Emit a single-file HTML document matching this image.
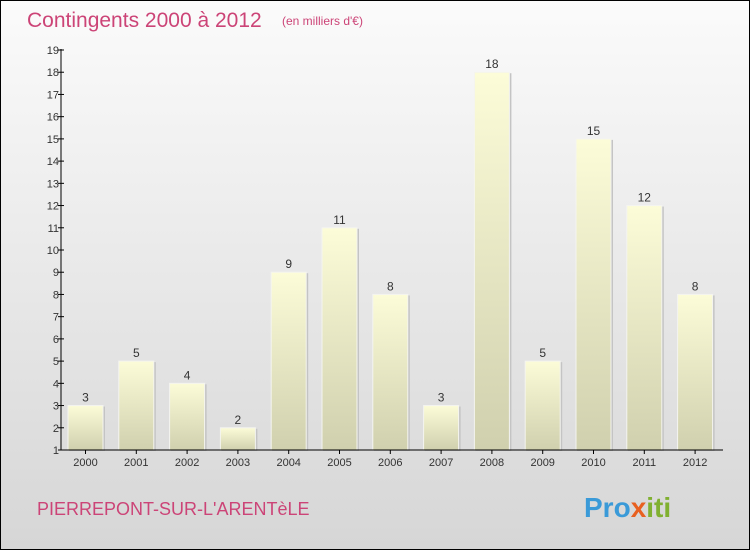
<!DOCTYPE html>
<html><head><meta charset="utf-8"><style>
body{margin:0}
.c{position:relative;width:748px;height:548px;border:1px solid #000;background:linear-gradient(#fbfbfb,#d6d6d6);font-family:"Liberation Sans",sans-serif;overflow:hidden}
</style></head><body><div class="c">
<svg width="748" height="548" style="position:absolute;left:0;top:0" font-family="Liberation Sans, sans-serif">
<defs><linearGradient id="g" x1="0" y1="0" x2="0" y2="1"><stop offset="0" stop-color="#fcfcd8"/><stop offset="1" stop-color="#d0d0ae"/></linearGradient></defs>
<text x="26" y="26" font-size="21" fill="#cc4477">Contingents 2000 à 2012</text>
<text x="281" y="24" font-size="12" fill="#cc4477">(en milliers d'€)</text>
<g id="bars"></g>
<line x1="60" y1="48" x2="60" y2="449" stroke="#000"/>
<line x1="60" y1="449" x2="722" y2="449" stroke="#000"/>
<g font-size="11" fill="#333" text-anchor="end" id="yt"></g>
<g font-size="11" fill="#333" text-anchor="middle" id="xt"></g>
<text x="36" y="514" font-size="18" fill="#cc4477">PIERREPONT-SUR-L'ARENTèLE</text>
<text x="583" y="516" font-size="28" font-weight="bold" fill="#3a9ad8">Pro<tspan fill="#e86020">x</tspan><tspan fill="#80b030">iti</tspan></text>
</svg>
<script>
var v=[3,5,4,2,9,11,8,3,18,5,15,12,8],s='',y='',x='';
function Y(n){return 449-(n-1)*400/18;}
v.forEach(function(n,i){var bx=67+50.8*i,t=Y(n);
s+='<rect x="'+(bx+1)+'" y="'+(t+1)+'" width="36" height="'+(449-t)+'" fill="#c4c4c4"/>';
s+='<rect x="'+bx+'" y="'+t+'" width="35" height="'+(449-t)+'" fill="url(#g)" stroke="#f4f4f0" stroke-width="1"/>';
s+='<text x="'+(bx+17.5)+'" y="'+(t-4)+'" font-size="12" fill="#333" text-anchor="middle">'+n+'</text>';
x+='<text x="'+(bx+17.5)+'" y="465">'+(2000+i)+'</text><line x1="'+(bx+17.5)+'" y1="449" x2="'+(bx+17.5)+'" y2="453" stroke="#000"/>';});
for(var k=1;k<=19;k++){var yy=Y(k);y+='<text x="58" y="'+(yy+4)+'">'+k+'</text><line x1="57" y1="'+yy+'" x2="63" y2="'+yy+'" stroke="#000"/>';}
document.getElementById('bars').innerHTML=s;document.getElementById('yt').innerHTML=y;document.getElementById('xt').innerHTML=x;
</script>
</div></body></html>
